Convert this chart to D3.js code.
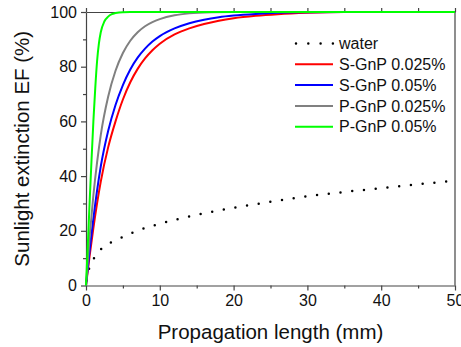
<!DOCTYPE html>
<html lang="en">
<head>
<meta charset="UTF-8">
<title>Sunlight extinction vs propagation length</title>
<script src="https://d3js.org/d3.v7.min.js"></script>
<style>
  body { margin: 0; background: #fff; }
  svg { display: block; }
  text { font-family: 'Liberation Sans', Arial, sans-serif; fill: #111; }
</style>
</head>
<body>
<div id="chart"></div>
<script>
// values: [propagation length (mm), EF (%)]
const water = [[0,0],[0.3,4.8],[0.9,9],[2,13.2],[3.7,16.2],[5.3,18.1],[6.8,19.9],[8.4,21.3],[10,22.6],
  [15,25.8],[20,28.4],[25,30.6],[30,32.6],[35,34.2],[40,35.6],[45,37],[50,38.3]];
const sGnP025 = [[0,0],[0.5,11],[1,21],[2,38],[3,50.5],[4,60],[5,68],[6,74.3],[7,79.2],[8,83],[9,86],[10,88.4],
  [12,91.8],[14,94],[16,95.6],[18,96.8],[20,97.7],[23,98.6],[26,99.2],[30,99.7],[35,100],[50,100]];
const sGnP05 = [[0,0],[0.5,13],[1,24.5],[2,43.5],[3,56.5],[4,66],[5,73.3],[6,79],[7,83.3],[8,86.6],[9,89.2],[10,91.2],
  [12,94],[14,95.9],[16,97.2],[18,98.1],[20,98.7],[23,99.3],[26,99.7],[30,99.9],[35,100],[50,100]];
const pGnP025 = [[0,0],[0.5,18],[1,33],[1.5,45],[2,55],[3,69],[4,78.5],[5,85],[6,89.5],[7,92.6],[8,94.8],[9,96.3],
  [10,97.4],[12,98.8],[14,99.5],[17,99.9],[20,100],[50,100]];
const pGnP05 = [[0,0],[0.25,15],[0.5,31],[0.75,46],[1,60],[1.25,72],[1.5,82],[1.75,88.5],[2,92.6],[2.5,96.6],
  [3,98.3],[3.5,99.2],[4,99.6],[5,99.95],[6,100],[50,100]];

const seriesNames = ["water", "S-GnP 0.025%", "S-GnP 0.05%", "P-GnP 0.025%", "P-GnP 0.05%"];
const seriesData = [water, sGnP025, sGnP05, pGnP025, pGnP05];
const seriesColors = ["#000000", "#ff0000", "#0000ff", "#808080", "#00ff00"];

const xMajor = [0, 10, 20, 30, 40, 50];
const xMinor = [5, 15, 25, 35, 45];
const yMajor = [0, 20, 40, 60, 80, 100];
const yMinor = [10, 30, 50, 70, 90];

const width = 461, height = 347;
const margin = {top: 12, right: 6, bottom: 61.5, left: 86};

const svg = d3.select("#chart").append("svg")
  .attr("width", width)
  .attr("height", height);

const x = d3.scaleLinear().domain([0, 50]).range([margin.left, width - margin.right]);
const y = d3.scaleLinear().domain([0, 100]).range([height - margin.bottom, margin.top]);

const axisColor = "#444";

// bottom axis
svg.append("g")
  .attr("transform", `translate(0,${y(0)})`)
  .call(d3.axisBottom(x).tickValues(xMinor).tickSize(3).tickSizeOuter(0).tickFormat(""))
  .call(g => g.select(".domain").remove());
const xAx = svg.append("g")
  .attr("transform", `translate(0,${y(0)})`)
  .call(d3.axisBottom(x).tickValues(xMajor).tickSize(5).tickSizeOuter(0).tickPadding(4.5));
xAx.selectAll("text").style("font-size", "16px");

// top axis (ticks, no labels)
svg.append("g")
  .attr("transform", `translate(0,${y(100)})`)
  .call(d3.axisTop(x).tickValues(xMajor.concat(xMinor)).tickSize(4).tickSizeOuter(0).tickFormat(""));

// left axis
svg.append("g")
  .attr("transform", `translate(${x(0)},0)`)
  .call(d3.axisLeft(y).tickValues(yMinor).tickSize(3).tickSizeOuter(0).tickFormat(""))
  .call(g => g.select(".domain").remove());
const yAx = svg.append("g")
  .attr("transform", `translate(${x(0)},0)`)
  .call(d3.axisLeft(y).tickValues(yMajor).tickSize(5).tickSizeOuter(0).tickPadding(4));
yAx.selectAll("text").style("font-size", "16px");

// right axis line
svg.append("line")
  .attr("x1", x(50)).attr("x2", x(50))
  .attr("y1", y(0)).attr("y2", y(100));

svg.selectAll(".domain, .tick line, line").attr("stroke", axisColor).attr("stroke-width", 1.2);
svg.selectAll(".tick text").attr("fill", "#111").style("font-family", "'Liberation Sans', Arial, sans-serif");

// curves
const line = d3.line()
  .x(d => x(d[0]))
  .y(d => y(d[1]))
  .curve(d3.curveMonotoneX);

seriesData.forEach((data, i) => {
  const p = svg.append("path")
    .datum(data)
    .attr("fill", "none")
    .attr("stroke", seriesColors[i])
    .attr("d", line);
  if (i === 0) {
    p.attr("stroke-width", 2.5)
      .attr("stroke-linecap", "round")
      .attr("stroke-dasharray", "0,11.8")
      .attr("stroke-dashoffset", -5);
  } else {
    p.attr("stroke-width", 2);
  }
});

// legend
const legend = svg.append("g").attr("transform", "translate(295,43.5)");
seriesNames.forEach((name, i) => {
  const row = legend.append("g").attr("transform", `translate(0,${i * 20.8})`);
  const l = row.append("line")
    .attr("x1", 0).attr("x2", 38)
    .attr("y1", 0).attr("y2", 0)
    .attr("stroke", seriesColors[i]);
  if (i === 0) {
    l.attr("stroke-width", 2.5).attr("stroke-linecap", "round").attr("stroke-dasharray", "0,12.3")
      .attr("x1", 1).attr("x2", 38);
  } else {
    l.attr("stroke-width", 2);
  }
  row.append("text")
    .attr("x", 44)
    .attr("y", 0)
    .attr("dy", "0.36em")
    .style("font-size", "16px")
    .text(name);
});

// axis titles
svg.append("text")
  .attr("x", (x(0) + x(50)) / 2)
  .attr("y", 339)
  .attr("text-anchor", "middle")
  .style("font-size", "20.5px")
  .text("Propagation length (mm)");

svg.append("text")
  .attr("transform", `translate(29,${(y(0) + y(100)) / 2}) rotate(-90)`)
  .attr("text-anchor", "middle")
  .style("font-size", "20.5px")
  .text("Sunlight extinction EF (%)");
</script>
</body>
</html>
